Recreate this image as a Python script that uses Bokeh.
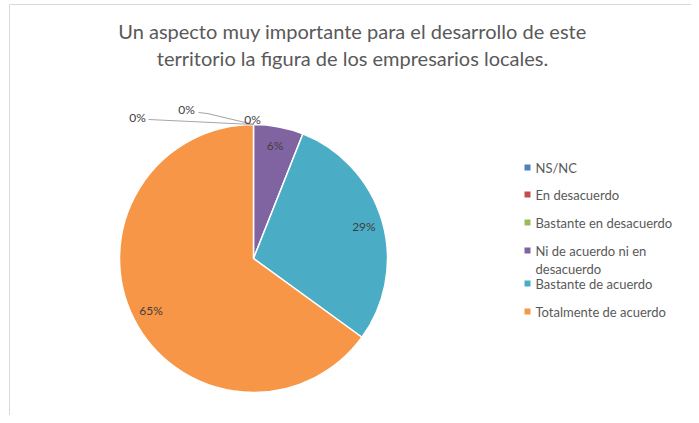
import numpy as np
from bokeh.plotting import figure
from bokeh.models import Range1d, ColumnDataSource
from bokeh.core.properties import value
from bokeh.embed import file_html
from bokeh.resources import INLINE

# ---- data ----
categories = ["NS/NC", "En desacuerdo", "Bastante en desacuerdo",
              "Ni de acuerdo ni en desacuerdo", "Bastante de acuerdo",
              "Totalmente de acuerdo"]
legend_lines = [["NS/NC"], ["En desacuerdo"], ["Bastante en desacuerdo"],
                ["Ni de acuerdo ni en", "desacuerdo"], ["Bastante de acuerdo"],
                ["Totalmente de acuerdo"]]
percent = [0, 0, 0, 6, 29, 65]
colors = ["#4F81BD", "#C0504D", "#9BBB59", "#8064A2", "#4BACC6", "#F79646"]
title_lines = ["Un aspecto muy importante para el desarrollo de este",
               "territorio la figura de los empresarios locales."]

FONT = "Lato"
W, H = 691, 415
p = figure(width=W, height=H, output_backend="svg", toolbar_location=None,
           x_range=Range1d(0, W), y_range=Range1d(0, H), min_border=0)
p.axis.visible = False
p.grid.visible = False
p.outline_line_color = None
p.background_fill_color = "white"
p.border_fill_color = "white"

# chart frame (left and top edges)
p.line(x=[9, 9, W + 5], y=[-5, H - 4, H - 4], line_color="#D9D9D9", line_width=1)

# ---- pie ----
cx, cy, r = 253, 157, 134
vals = np.array(percent, dtype=float)
fr = vals / vals.sum()
cum = np.concatenate([[0], np.cumsum(fr)])
start = np.pi / 2 - 2 * np.pi * cum[:-1]
end = np.pi / 2 - 2 * np.pi * cum[1:]
mask = vals > 0
src = ColumnDataSource(dict(x=[cx] * mask.sum(), y=[cy] * mask.sum(),
                            start=start[mask], end=end[mask],
                            color=[c for c, m in zip(colors, mask) if m]))
p.wedge(x="x", y="y", radius=r, start_angle="start", end_angle="end",
        direction="clock", fill_color="color", line_color="white",
        line_width=1.5, source=src)

# data labels for non-zero slices
mid = (cum[:-1] + cum[1:]) / 2 * 2 * np.pi
rl = 115
lx = cx + rl * np.sin(mid)
ly = cy + rl * np.cos(mid)
lab = [f"{int(v)}%" for v in percent]
p.text(x=lx[mask], y=ly[mask], text=[t for t, m in zip(lab, mask) if m],
       text_align="center", text_baseline="middle", text_font=value(FONT),
       text_font_size="12px", text_color="#404040")

# zero labels with leader lines
zero_pos = [(-116, 141), (-67, 149), (-1, 139)]
zx = [cx + dx for dx, dy in zero_pos]
zy = [cy + dy for dx, dy in zero_pos]
top_y = cy + r
p.line(x=[zx[0] + 11, cx], y=[zy[0] - 2, top_y], line_color="#A6A6A6", line_width=1.2)
p.line(x=[zx[1] + 12, zx[1] + 21, cx], y=[zy[1] - 3, zy[1] - 4, top_y],
       line_color="#A6A6A6", line_width=1.2)
p.text(x=zx, y=zy, text=[l for l, v in zip(lab, percent) if v == 0],
       text_align="center", text_baseline="middle", text_font=value(FONT),
       text_font_size="12px", text_color="#404040")

# ---- title ----
p.text(x=[352, 352], y=[H - 30, H - 57], text=title_lines, text_align="center",
       text_baseline="middle", text_font=value(FONT), text_font_size="20px",
       text_color="#595959")

# ---- legend ----
row_ref = [167, 194, 222, 250, 283, 311]
row_y = [H - v for v in row_ref]
p.scatter(x=[527] * len(row_y), y=row_y, marker="square", size=6,
          fill_color=colors, line_color=None)
tx, ty, tt = [], [], []
for yy, lines in zip(row_y, legend_lines):
    for k, t in enumerate(lines):
        tx.append(535)
        ty.append(yy - 18 * k)
        tt.append(t)
p.text(x=tx, y=ty, text=tt, text_align="left", text_baseline="middle",
       text_font=value(FONT), text_font_size="13px", text_color="#595959")

open("out.html", "w").write(file_html(p, INLINE))
